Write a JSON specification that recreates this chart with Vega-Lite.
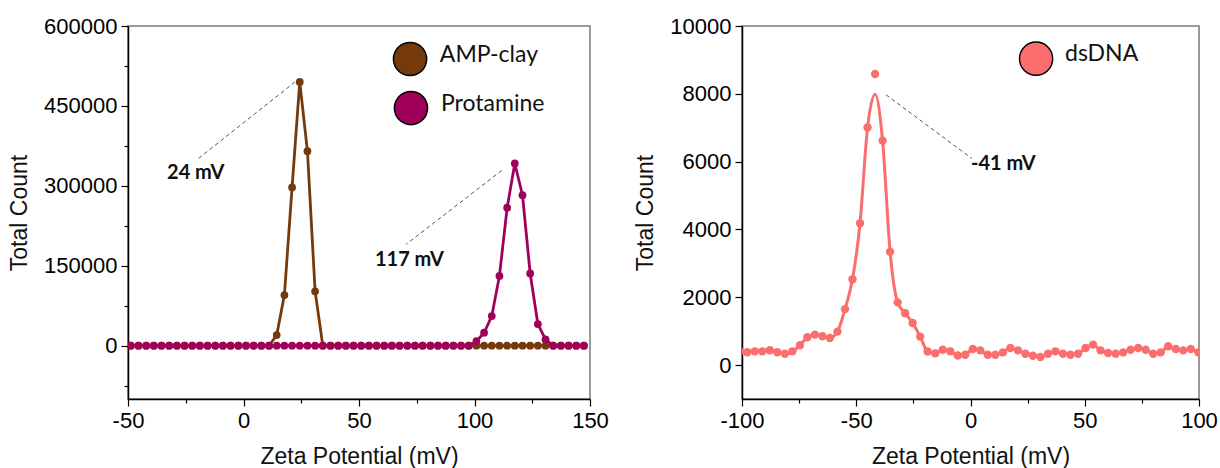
{
  "$schema": "https://vega.github.io/schema/vega-lite/v6.json",
  "background": "white",
  "padding": {"left": 7, "top": 14, "right": 0, "bottom": 0},
  "autosize": {"type": "pad"},
  "bounds": "flush",
  "spacing": 152,
  "config": {
    "view": {"stroke": "#7a7a7a", "strokeWidth": 1.5},
    "axis": {
      "grid": false,
      "domainColor": "#000",
      "domainWidth": 1.5,
      "tickColor": "#000",
      "tickWidth": 1.2,
      "labelFont": "Liberation Sans",
      "labelFontSize": 22,
      "labelColor": "#000",
      "labelPadding": 4,
      "labelOverlap": false,
      "labelFlush": false,
      "titleFont": "Liberation Sans",
      "titleFontSize": 23,
      "titleFontWeight": "normal",
      "titleColor": "#111",
      "titlePadding": 12
    },
    "axisX": {"titlePadding": 14}
  },
  "resolve": {
    "scale": {"x": "independent", "y": "independent", "color": "independent", "stroke": "independent"},
    "legend": {"color": "independent", "stroke": "independent"}
  },
  "datasets": {
    "left": [
      {"zeta": -48.8, "AMP-clay": 0, "Protamine": 0},
      {"zeta": -45.48, "AMP-clay": 0, "Protamine": 0},
      {"zeta": -42.15, "AMP-clay": 0, "Protamine": 0},
      {"zeta": -38.83, "AMP-clay": 0, "Protamine": 0},
      {"zeta": -35.5, "AMP-clay": 0, "Protamine": 0},
      {"zeta": -32.18, "AMP-clay": 0, "Protamine": 0},
      {"zeta": -28.85, "AMP-clay": 0, "Protamine": 0},
      {"zeta": -25.53, "AMP-clay": 0, "Protamine": 0},
      {"zeta": -22.2, "AMP-clay": 0, "Protamine": 0},
      {"zeta": -18.88, "AMP-clay": 0, "Protamine": 0},
      {"zeta": -15.55, "AMP-clay": 0, "Protamine": 0},
      {"zeta": -12.23, "AMP-clay": 0, "Protamine": 0},
      {"zeta": -8.9, "AMP-clay": 0, "Protamine": 0},
      {"zeta": -5.58, "AMP-clay": 0, "Protamine": 0},
      {"zeta": -2.25, "AMP-clay": 0, "Protamine": 0},
      {"zeta": 1.08, "AMP-clay": 0, "Protamine": 0},
      {"zeta": 4.4, "AMP-clay": 0, "Protamine": 0},
      {"zeta": 7.73, "AMP-clay": 0, "Protamine": 0},
      {"zeta": 11.05, "AMP-clay": 0, "Protamine": 0},
      {"zeta": 14.38, "AMP-clay": 20000, "Protamine": 0},
      {"zeta": 17.7, "AMP-clay": 95000, "Protamine": 0},
      {"zeta": 21.03, "AMP-clay": 297000, "Protamine": 0},
      {"zeta": 24.35, "AMP-clay": 495000, "Protamine": 0},
      {"zeta": 27.68, "AMP-clay": 365000, "Protamine": 0},
      {"zeta": 31.0, "AMP-clay": 102000, "Protamine": 0},
      {"zeta": 34.33, "AMP-clay": 0, "Protamine": 0},
      {"zeta": 37.65, "AMP-clay": 0, "Protamine": 0},
      {"zeta": 40.98, "AMP-clay": 0, "Protamine": 0},
      {"zeta": 44.3, "AMP-clay": 0, "Protamine": 0},
      {"zeta": 47.63, "AMP-clay": 0, "Protamine": 0},
      {"zeta": 50.95, "AMP-clay": 0, "Protamine": 0},
      {"zeta": 54.28, "AMP-clay": 0, "Protamine": 0},
      {"zeta": 57.6, "AMP-clay": 0, "Protamine": 0},
      {"zeta": 60.93, "AMP-clay": 0, "Protamine": 0},
      {"zeta": 64.25, "AMP-clay": 0, "Protamine": 0},
      {"zeta": 67.58, "AMP-clay": 0, "Protamine": 0},
      {"zeta": 70.9, "AMP-clay": 0, "Protamine": 0},
      {"zeta": 74.23, "AMP-clay": 0, "Protamine": 0},
      {"zeta": 77.55, "AMP-clay": 0, "Protamine": 0},
      {"zeta": 80.88, "AMP-clay": 0, "Protamine": 0},
      {"zeta": 84.2, "AMP-clay": 0, "Protamine": 0},
      {"zeta": 87.53, "AMP-clay": 0, "Protamine": 0},
      {"zeta": 90.85, "AMP-clay": 0, "Protamine": 0},
      {"zeta": 94.18, "AMP-clay": 0, "Protamine": 0},
      {"zeta": 97.5, "AMP-clay": 0, "Protamine": 0},
      {"zeta": 100.83, "AMP-clay": 0, "Protamine": 8700},
      {"zeta": 104.15, "AMP-clay": 0, "Protamine": 24400},
      {"zeta": 107.48, "AMP-clay": 0, "Protamine": 55700},
      {"zeta": 110.8, "AMP-clay": 0, "Protamine": 131000},
      {"zeta": 114.13, "AMP-clay": 0, "Protamine": 259000},
      {"zeta": 117.45, "AMP-clay": 0, "Protamine": 342000},
      {"zeta": 120.78, "AMP-clay": 0, "Protamine": 282500},
      {"zeta": 124.1, "AMP-clay": 0, "Protamine": 135600},
      {"zeta": 127.43, "AMP-clay": 0, "Protamine": 40700},
      {"zeta": 130.75, "AMP-clay": 0, "Protamine": 11800},
      {"zeta": 134.08, "AMP-clay": 0, "Protamine": 0},
      {"zeta": 137.4, "AMP-clay": 0, "Protamine": 0},
      {"zeta": 140.73, "AMP-clay": 0, "Protamine": 0},
      {"zeta": 144.05, "AMP-clay": 0, "Protamine": 0},
      {"zeta": 147.38, "AMP-clay": 0, "Protamine": 0}
    ],
    "leftNotes": [
      {"x": 22.3, "y": 495000, "x2": -19.6, "y2": 351000, "lx": -33.1, "ly": 324000, "label": "24 mV"},
      {"x": 111.8, "y": 329000, "x2": 70.3, "y2": 190000, "lx": 56.9, "ly": 161000, "label": "117 mV"}
    ],
    "right": [
      {"zeta": -100.99, "count": 400, "fit": 400},
      {"zeta": -97.7, "count": 380, "fit": 380},
      {"zeta": -94.41, "count": 406, "fit": 406},
      {"zeta": -91.12, "count": 406, "fit": 406},
      {"zeta": -87.83, "count": 436, "fit": 436},
      {"zeta": -84.54, "count": 377, "fit": 377},
      {"zeta": -81.25, "count": 335, "fit": 335},
      {"zeta": -77.96, "count": 406, "fit": 406},
      {"zeta": -74.67, "count": 584, "fit": 584},
      {"zeta": -71.38, "count": 822, "fit": 822},
      {"zeta": -68.09, "count": 899, "fit": 899},
      {"zeta": -64.8, "count": 851, "fit": 851},
      {"zeta": -61.51, "count": 800, "fit": 800},
      {"zeta": -58.22, "count": 988, "fit": 988},
      {"zeta": -54.93, "count": 1650, "fit": 1650},
      {"zeta": -51.64, "count": 2531, "fit": 2531},
      {"zeta": -48.35, "count": 4183, "fit": 4183},
      {"zeta": -45.06, "count": 7005, "fit": 7005},
      {"zeta": -41.77, "count": 8584, "fit": 7990},
      {"zeta": -38.48, "count": 6620, "fit": 6620},
      {"zeta": -35.19, "count": 3344, "fit": 3344},
      {"zeta": -31.9, "count": 1850, "fit": 1850},
      {"zeta": -28.61, "count": 1530, "fit": 1530},
      {"zeta": -25.32, "count": 1240, "fit": 1240},
      {"zeta": -22.03, "count": 840, "fit": 840},
      {"zeta": -18.74, "count": 400, "fit": 400},
      {"zeta": -15.45, "count": 345, "fit": 345},
      {"zeta": -12.16, "count": 454, "fit": 454},
      {"zeta": -8.87, "count": 406, "fit": 406},
      {"zeta": -5.58, "count": 282, "fit": 282},
      {"zeta": -2.29, "count": 306, "fit": 306},
      {"zeta": 1.0, "count": 475, "fit": 475},
      {"zeta": 4.29, "count": 435, "fit": 435},
      {"zeta": 7.58, "count": 306, "fit": 306},
      {"zeta": 10.87, "count": 306, "fit": 306},
      {"zeta": 14.16, "count": 376, "fit": 376},
      {"zeta": 17.45, "count": 504, "fit": 504},
      {"zeta": 20.74, "count": 435, "fit": 435},
      {"zeta": 24.03, "count": 336, "fit": 336},
      {"zeta": 27.32, "count": 276, "fit": 276},
      {"zeta": 30.61, "count": 237, "fit": 237},
      {"zeta": 33.9, "count": 336, "fit": 336},
      {"zeta": 37.19, "count": 406, "fit": 406},
      {"zeta": 40.48, "count": 336, "fit": 336},
      {"zeta": 43.77, "count": 306, "fit": 306},
      {"zeta": 47.06, "count": 336, "fit": 336},
      {"zeta": 50.35, "count": 504, "fit": 504},
      {"zeta": 53.64, "count": 603, "fit": 603},
      {"zeta": 56.93, "count": 435, "fit": 435},
      {"zeta": 60.22, "count": 356, "fit": 356},
      {"zeta": 63.51, "count": 336, "fit": 336},
      {"zeta": 66.8, "count": 376, "fit": 376},
      {"zeta": 70.09, "count": 454, "fit": 454},
      {"zeta": 73.38, "count": 504, "fit": 504},
      {"zeta": 76.67, "count": 454, "fit": 454},
      {"zeta": 79.96, "count": 336, "fit": 336},
      {"zeta": 83.25, "count": 376, "fit": 376},
      {"zeta": 86.54, "count": 554, "fit": 554},
      {"zeta": 89.83, "count": 475, "fit": 475},
      {"zeta": 93.12, "count": 435, "fit": 435},
      {"zeta": 96.41, "count": 475, "fit": 475},
      {"zeta": 99.7, "count": 376, "fit": 376}
    ],
    "rightNotes": [
      {"x": -37.0, "y": 7973, "x2": 0.6, "y2": 6092, "lx": 0.2, "ly": 5935, "label": "-41 mV"}
    ]
  },
  "hconcat": [
    {
      "width": 462,
      "height": 373,
      "layer": [
        {
          "data": {"name": "left"},
          "transform": [{"fold": ["AMP-clay", "Protamine"], "as": ["series", "count"]}],
          "mark": {"type": "line", "strokeWidth": 2.8, "clip": true},
          "encoding": {
            "x": {"field": "zeta", "type": "quantitative", "title": "Zeta Potential (mV)",
              "scale": {"domain": [-50, 150], "nice": false, "zero": false},
              "axis": {"values": [-50, -25, 0, 25, 50, 75, 100, 125, 150],
                "labelExpr": "datum.value % 50 === 0 ? '' + datum.value : ''",
                "tickSize": {"condition": {"test": "datum.value % 50 === 0", "value": 7}, "value": 4}}},
            "y": {"field": "count", "type": "quantitative", "title": "Total Count",
              "scale": {"domain": [-100000, 600000], "nice": false, "zero": false},
              "axis": {"values": [-75000, 0, 75000, 150000, 225000, 300000, 375000, 450000, 525000, 600000],
                "labelExpr": "datum.value % 150000 === 0 ? '' + datum.value : ''",
                "tickSize": {"condition": {"test": "datum.value % 150000 === 0", "value": 7}, "value": 4}}},
            "stroke": {"field": "series", "type": "nominal",
              "scale": {"domain": ["AMP-clay", "Protamine"], "range": ["#743a0c", "#a1005a"]},
              "legend": null}
          }
        },
        {
          "data": {"name": "left"},
          "transform": [{"fold": ["AMP-clay", "Protamine"], "as": ["series", "count"]}],
          "mark": {"type": "point", "filled": true, "size": 60, "opacity": 1, "clip": true},
          "encoding": {
            "x": {"field": "zeta", "type": "quantitative", "title": "Zeta Potential (mV)"},
            "y": {"field": "count", "type": "quantitative", "title": "Total Count"},
            "color": {"field": "series", "type": "nominal",
              "scale": {"domain": ["AMP-clay", "Protamine"], "range": ["#743a0c", "#a1005a"]},
              "legend": null}
          }
        },
        {
          "data": {"name": "leftNotes"},
          "mark": {"type": "rule", "strokeDash": [4, 3], "color": "#555", "strokeWidth": 1},
          "encoding": {
            "x": {"field": "x", "type": "quantitative", "title": "Zeta Potential (mV)"},
            "y": {"field": "y", "type": "quantitative", "title": "Total Count"},
            "x2": {"field": "x2"},
            "y2": {"field": "y2"}
          }
        },
        {
          "data": {"name": "leftNotes"},
          "mark": {"type": "text", "font": "Lato", "fontWeight": "bold", "fontSize": 20, "align": "left", "baseline": "middle", "color": "#111"},
          "encoding": {
            "x": {"field": "lx", "type": "quantitative", "title": "Zeta Potential (mV)"},
            "y": {"field": "ly", "type": "quantitative", "title": "Total Count"},
            "text": {"field": "label"}
          }
        },
        {
          "data": {"values": [{}]},
          "mark": {"type": "circle", "size": 1100, "fill": "#743a0c", "stroke": "#000", "strokeWidth": 1.5, "opacity": 1},
          "encoding": {
            "x": {"datum": 72.1, "type": "quantitative", "title": "Zeta Potential (mV)"},
            "y": {"datum": 538000, "type": "quantitative", "title": "Total Count"}
          }
        },
        {
          "data": {"values": [{}]},
          "mark": {"type": "circle", "size": 1100, "fill": "#a1005a", "stroke": "#000", "strokeWidth": 1.5, "opacity": 1},
          "encoding": {
            "x": {"datum": 72.5, "type": "quantitative", "title": "Zeta Potential (mV)"},
            "y": {"datum": 446000, "type": "quantitative", "title": "Total Count"}
          }
        },
        {
          "data": {"values": [{}]},
          "mark": {"type": "text", "text": "AMP-clay", "font": "Lato", "fontSize": 23, "align": "left", "baseline": "middle", "color": "#111"},
          "encoding": {
            "x": {"datum": 85.0, "type": "quantitative", "title": "Zeta Potential (mV)"},
            "y": {"datum": 545000, "type": "quantitative", "title": "Total Count"}
          }
        },
        {
          "data": {"values": [{}]},
          "mark": {"type": "text", "text": "Protamine", "font": "Lato", "fontSize": 23, "align": "left", "baseline": "middle", "color": "#111"},
          "encoding": {
            "x": {"datum": 85.5, "type": "quantitative", "title": "Zeta Potential (mV)"},
            "y": {"datum": 454000, "type": "quantitative", "title": "Total Count"}
          }
        }
      ]
    },
    {
      "width": 457,
      "height": 373,
      "layer": [
        {
          "data": {"name": "right"},
          "mark": {"type": "line", "strokeWidth": 3, "interpolate": "monotone", "clip": true},
          "encoding": {
            "x": {"field": "zeta", "type": "quantitative", "title": "Zeta Potential (mV)",
              "scale": {"domain": [-100, 100], "nice": false, "zero": false},
              "axis": {"values": [-100, -75, -50, -25, 0, 25, 50, 75, 100],
                "labelExpr": "datum.value % 50 === 0 ? '' + datum.value : ''",
                "tickSize": {"condition": {"test": "datum.value % 50 === 0", "value": 7}, "value": 4}}},
            "y": {"field": "fit", "type": "quantitative", "title": "Total Count",
              "scale": {"domain": [-1000, 10000], "nice": false, "zero": false},
              "axis": {"values": [0, 1000, 2000, 3000, 4000, 5000, 6000, 7000, 8000, 9000, 10000],
                "labelExpr": "datum.value % 2000 === 0 ? '' + datum.value : ''",
                "tickSize": {"condition": {"test": "datum.value % 2000 === 0", "value": 7}, "value": 4}}},
            "stroke": {"datum": "dsDNA", "type": "nominal",
              "scale": {"domain": ["dsDNA"], "range": ["#fa6e6e"]},
              "legend": null}
          }
        },
        {
          "data": {"name": "right"},
          "mark": {"type": "point", "filled": true, "size": 70, "opacity": 1, "clip": true},
          "encoding": {
            "x": {"field": "zeta", "type": "quantitative", "title": "Zeta Potential (mV)"},
            "y": {"field": "count", "type": "quantitative", "title": "Total Count"},
            "color": {"datum": "dsDNA", "type": "nominal",
              "scale": {"domain": ["dsDNA"], "range": ["#fa6e6e"]},
              "legend": null}
          }
        },
        {
          "data": {"name": "rightNotes"},
          "mark": {"type": "rule", "strokeDash": [4, 3], "color": "#555", "strokeWidth": 1},
          "encoding": {
            "x": {"field": "x", "type": "quantitative", "title": "Zeta Potential (mV)"},
            "y": {"field": "y", "type": "quantitative", "title": "Total Count"},
            "x2": {"field": "x2"},
            "y2": {"field": "y2"}
          }
        },
        {
          "data": {"name": "rightNotes"},
          "mark": {"type": "text", "font": "Lato", "fontWeight": "bold", "fontSize": 20, "align": "left", "baseline": "middle", "color": "#111"},
          "encoding": {
            "x": {"field": "lx", "type": "quantitative", "title": "Zeta Potential (mV)"},
            "y": {"field": "ly", "type": "quantitative", "title": "Total Count"},
            "text": {"field": "label"}
          }
        },
        {
          "data": {"values": [{}]},
          "mark": {"type": "circle", "size": 1100, "fill": "#fa6e6e", "stroke": "#000", "strokeWidth": 1.5, "opacity": 1},
          "encoding": {
            "x": {"datum": 28.7, "type": "quantitative", "title": "Zeta Potential (mV)"},
            "y": {"datum": 9036, "type": "quantitative", "title": "Total Count"}
          }
        },
        {
          "data": {"values": [{}]},
          "mark": {"type": "text", "text": "dsDNA", "font": "Lato", "fontSize": 23, "align": "left", "baseline": "middle", "color": "#111"},
          "encoding": {
            "x": {"datum": 41.4, "type": "quantitative", "title": "Zeta Potential (mV)"},
            "y": {"datum": 9180, "type": "quantitative", "title": "Total Count"}
          }
        }
      ]
    }
  ]
}
